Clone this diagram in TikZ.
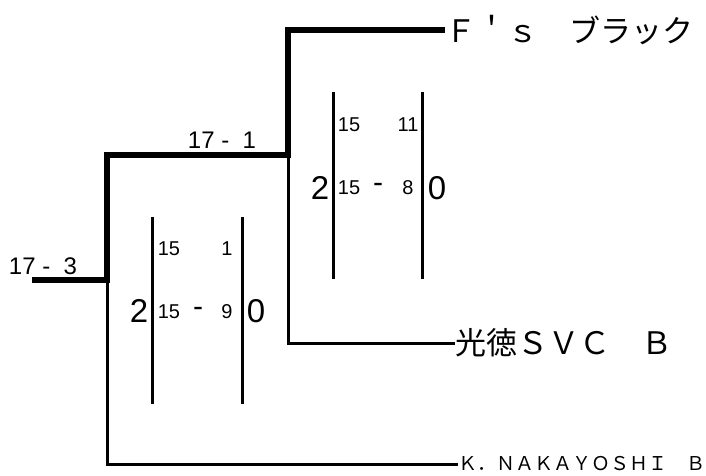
\documentclass[tikz,border=0pt]{standalone}
\usepackage{fontspec}
\setmainfont{Liberation Sans}
\newfontfamily\jp{Noto Sans CJK JP}
\begin{document}
\begin{tikzpicture}[x=1pt,y=-1pt,
  thickl/.style={line width=6.5pt,line join=miter},
  thinl/.style={line width=3pt},
  team/.style={anchor=west,inner sep=0pt,font=\jp\fontsize{31}{31}\selectfont},
  smallteam/.style={anchor=west,inner sep=0pt,font=\jp\fontsize{19}{19}\selectfont},
  score/.style={inner sep=0pt,font=\fontsize{24}{24}\selectfont},
  big/.style={inner sep=0pt,font=\fontsize{33}{33}\selectfont},
  sm/.style={inner sep=0pt,font=\fontsize{20}{20}\selectfont},
  hyph/.style={inner sep=0pt,font=\fontsize{30}{30}\selectfont},
  bar/.style={line width=3pt}]
\useasboundingbox (0,0) rectangle (706,475);
% teams
\node[team] (t1) at (445,30) {Ｆ＇ｓ　ブラック};
\node[team] (t2) at (455,343) {光徳ＳＶＣ　Ｂ};
\node[smallteam] (t3) at (458,464) {Ｋ．ＮＡＫＡＹＯＳＨＩ　Ｂ};
% bracket corners
\coordinate (r0) at (32,280);
\coordinate (j1) at (107,280);
\coordinate (j1t) at (107,155);
\coordinate (j2) at (288,155);
\coordinate (j2t) at (288,30);
\draw[thinl] (j1) |- (t3.west);
\draw[thinl] (j2) |- (t2.west);
\draw[thickl] (r0) -- (j1) -- (j1t) -- (j2) -- (j2t) -- (t1.west);
% round labels
\node[score] (l1) at (43,266) {17 -\ \ 3};
\node[score] (l2) at (222,140) {17 -\ \ 1};
% lower score box
\coordinate (a1t) at (152,217); \coordinate (a1b) at (152,404);
\coordinate (a2t) at (242,217); \coordinate (a2b) at (242,404);
\draw[bar] (a1t) -- (a1b);
\draw[bar] (a2t) -- (a2b);
\node[big] (a2) at (139,311) {2};
\node[big] (a0) at (256,311) {0};
\node[sm] (a11) at (169,249) {15};
\node[sm] (a12) at (227,249) {1};
\node[sm] (a21) at (169,312) {15};
\node[hyph] (a22) at (198,312) {-};
\node[sm] (a23) at (227,312) {9};
% upper score box
\coordinate (b1t) at (333,92); \coordinate (b1b) at (333,279);
\coordinate (b2t) at (422,92); \coordinate (b2b) at (422,279);
\draw[bar] (b1t) -- (b1b);
\draw[bar] (b2t) -- (b2b);
\node[big] (b2) at (320,188) {2};
\node[big] (b0) at (437,188) {0};
\node[sm] (b11) at (349,125) {15};
\node[sm] (b12) at (408,125) {11};
\node[sm] (b21) at (349,188) {15};
\node[hyph] (b22) at (378,188) {-};
\node[sm] (b23) at (408,188) {8};
\end{tikzpicture}
\end{document}
